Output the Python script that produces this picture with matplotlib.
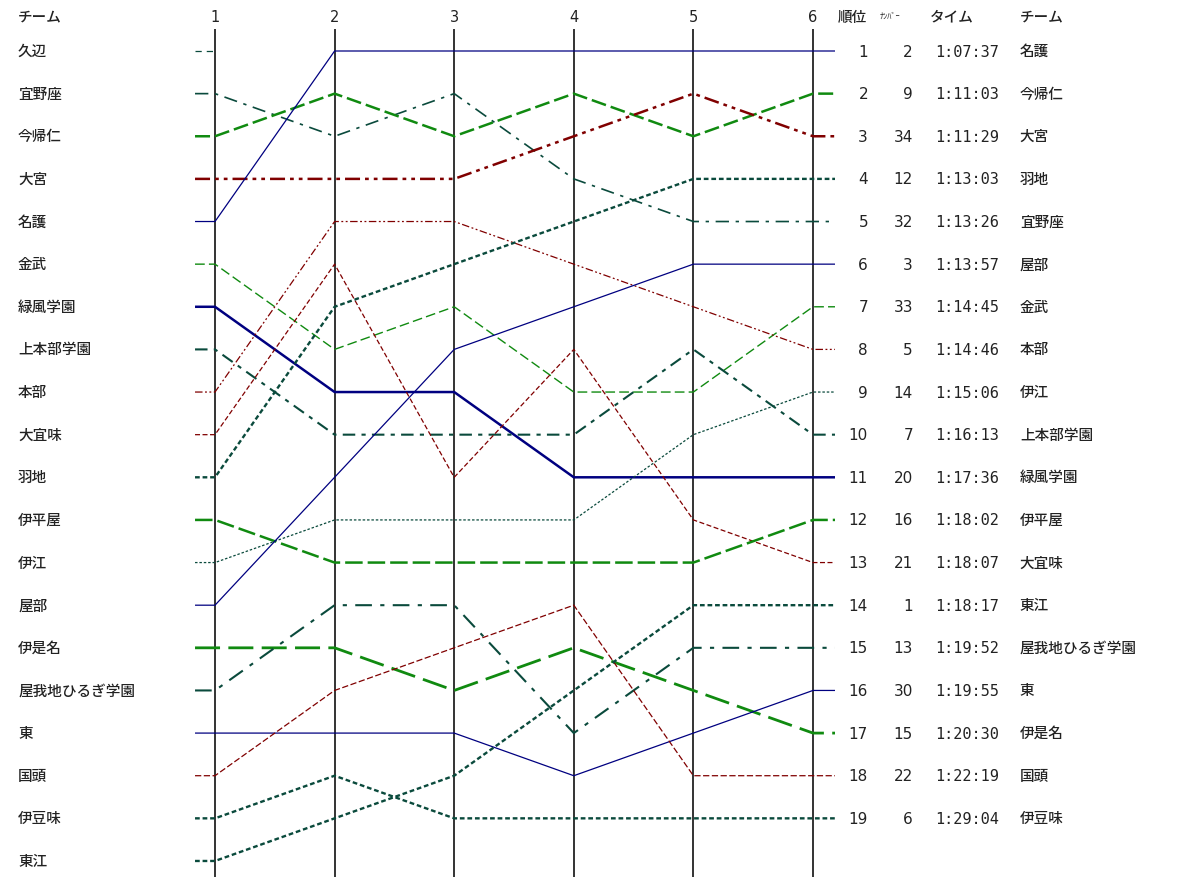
import numpy as np
import matplotlib
matplotlib.use('Agg')
import matplotlib.pyplot as plt

plt.rcParams['font.family'] = ['Noto Sans CJK JP', 'DejaVu Sans']

# チーム (order = rank after leg 1)
teams = ['久辺', '宜野座', '今帰仁', '大宮', '名護', '金武', '緑風学園', '上本部学園',
         '本部', '大宜味', '羽地', '伊平屋', '伊江', '屋部', '伊是名',
         '屋我地ひるぎ学園', '東', '国頭', '伊豆味', '東江']

legs = [1, 2, 3, 4, 5, 6]

# rank after each leg (nan = did not continue)
ranks = [
    [1, np.nan, np.nan, np.nan, np.nan, np.nan],
    [2, 3, 2, 4, 5, 5],
    [3, 2, 3, 2, 3, 2],
    [4, 4, 4, 3, 2, 3],
    [5, 1, 1, 1, 1, 1],
    [6, 8, 7, 9, 9, 7],
    [7, 9, 9, 11, 11, 11],
    [8, 10, 10, 10, 8, 10],
    [9, 5, 5, 6, 7, 8],
    [10, 6, 11, 8, 12, 13],
    [11, 7, 6, 5, 4, 4],
    [12, 13, 13, 13, 13, 12],
    [13, 12, 12, 12, 10, 9],
    [14, 11, 8, 7, 6, 6],
    [15, 15, 16, 15, 16, 17],
    [16, 14, 14, 17, 15, 15],
    [17, 17, 17, 18, 17, 16],
    [18, 16, 15, 14, 18, 18],
    [19, 18, 19, 19, 19, 19],
    [20, 19, 18, 16, 14, 14],
]

# final table
final_rank = list(range(1, 20))
final_num = [2, 9, 34, 12, 32, 3, 33, 5, 14, 7, 20, 16, 21, 1, 13, 30, 15, 22, 6]
final_time = ['1:07:37', '1:11:03', '1:11:29', '1:13:03', '1:13:26', '1:13:57',
              '1:14:45', '1:14:46', '1:15:06', '1:16:13', '1:17:36', '1:18:02',
              '1:18:07', '1:18:17', '1:19:52', '1:19:55', '1:20:30', '1:22:19',
              '1:29:04']
final_team = ['名護', '今帰仁', '大宮', '羽地', '宜野座', '屋部', '金武', '本部',
              '伊江', '上本部学園', '緑風学園', '伊平屋', '大宜味', '東江',
              '屋我地ひるぎ学園', '東', '伊是名', '国頭', '伊豆味']

NAVY = '#000080'
GREEN = '#108a10'
RED = '#800000'
TEAL = '#0a4a3c'
TXT = '#222222'

# (colour, linewidth, dash pattern) per team
styles = [
    (TEAL, 0.9, (0, (5, 4))),
    (TEAL, 1.2, (0, (8, 4, 2, 4))),
    (GREEN, 1.8, (0, (6, 2))),
    (RED, 1.8, (0, (6, 2, 1.5, 2, 1.5, 2))),
    (NAVY, 0.9, '-'),
    (GREEN, 1.0, (0, (7, 3))),
    (NAVY, 1.8, '-'),
    (TEAL, 1.5, (0, (6, 3, 2, 3))),
    (RED, 0.9, (0, (6, 2, 1.5, 2, 1.5, 2))),
    (RED, 0.9, (0, (4, 2))),
    (TEAL, 1.7, (0, (2, 1.2))),
    (GREEN, 1.8, (0, (7, 2))),
    (TEAL, 0.9, (0, (2, 1.5))),
    (NAVY, 0.9, '-'),
    (GREEN, 2.0, (0, (9, 3))),
    (TEAL, 1.5, (0, (8, 4, 2, 4))),
    (NAVY, 0.9, '-'),
    (RED, 0.9, (0, (5, 2))),
    (TEAL, 1.7, (0, (2, 1.2))),
    (TEAL, 1.7, (0, (2, 1.2))),
]

fig = plt.figure(figsize=(11.92, 8.78), dpi=100)
ax = fig.add_axes([0, 0, 1, 1])
ax.set_xlim(-0.7977, 9.169)
ax.set_ylim(20.376, -0.2198)
ax.axis('off')

# leg columns
ax.vlines(legs, 0.484, 20.5, color='#111111', lw=1.2, zorder=1)
for lg in legs:
    ax.text(lg, 0.2, str(lg), ha='center', va='center', fontsize=10.5,
            family='DejaVu Sans', color=TXT)

for name, r, st in zip(teams, ranks, styles):
    col, lw, ls = st
    r = np.array(r, dtype=float)
    ok = ~np.isnan(r)
    xs = [0.833] + list(np.array(legs)[ok])
    ys = [r[0]] + list(r[ok])
    if ok.all():
        xs.append(6.184)
        ys.append(r[-1])
    ax.plot(xs, ys, color=col, lw=lw, linestyle=ls, zorder=2,
            solid_capstyle='butt', dash_capstyle='butt')
    ax.text(-0.647, r[0], name, ha='left', va='center', fontsize=10.5,
            color=TXT, fontweight='medium')

ax.text(-0.647, 0.2, 'チーム', ha='left', va='center', fontsize=10.5,
        color=TXT, fontweight='medium')

# right table
ax.text(6.209, 0.2, '順位', ha='left', va='center', fontsize=10.5,
        color=TXT, fontweight='medium')
ax.text(6.56, 0.16, 'ﾅﾝﾊﾞｰ', ha='left', va='center', fontsize=6, color=TXT)
ax.text(6.98, 0.2, 'タイム', ha='left', va='center', fontsize=10.5,
        color=TXT, fontweight='medium')
ax.text(7.73, 0.2, 'チーム', ha='left', va='center', fontsize=10.5,
        color=TXT, fontweight='medium')
for rk, num, tm, nm in zip(final_rank, final_num, final_time, final_team):
    ax.text(6.46, rk, str(rk), ha='right', va='center', fontsize=11,
            family='DejaVu Sans', color=TXT)
    ax.text(6.836, rk, str(num), ha='right', va='center', fontsize=11,
            family='DejaVu Sans', color=TXT)
    ax.text(7.02, rk, tm, ha='left', va='center', fontsize=11,
            family='DejaVu Sans Mono', color=TXT)
    ax.text(7.73, rk, nm, ha='left', va='center', fontsize=10.5,
            color=TXT, fontweight='medium')

fig.savefig('out.png', dpi=100)
